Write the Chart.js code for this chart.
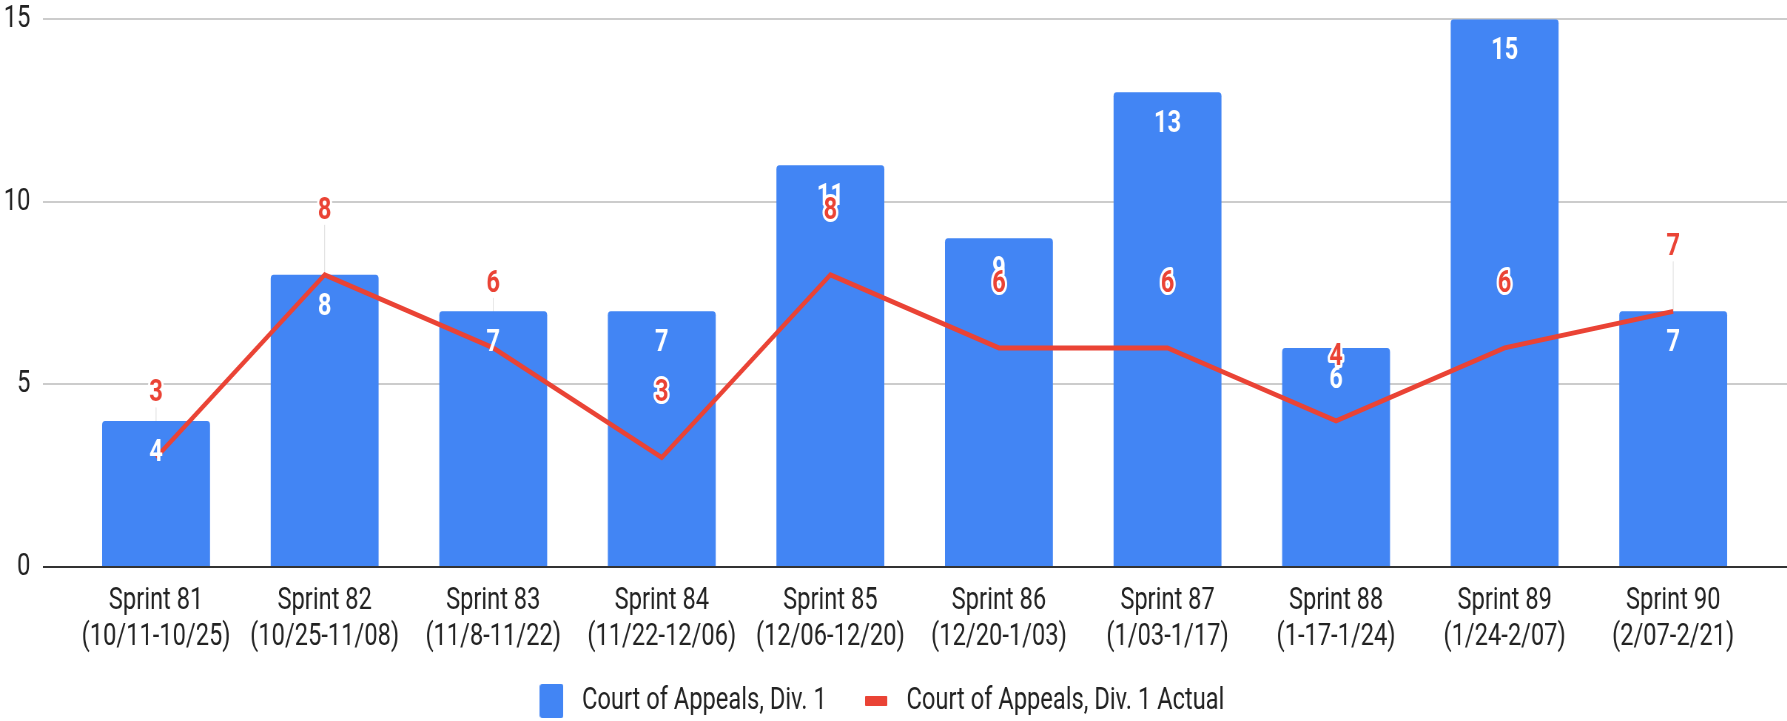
<!DOCTYPE html>
<html>
<head>
<meta charset="utf-8">
<script src="https://cdn.jsdelivr.net/npm/chart.js@4/dist/chart.umd.min.js"></script>
<style>
  html, body { margin: 0; padding: 0; background: #fff; overflow: hidden; }
  #wrap { width: 1787px; height: 721px; overflow: hidden; }
  /* the reference is a horizontally squeezed render, so draw wide and squeeze */
  #chart { transform: scaleX(0.74); transform-origin: 0 0; display: block; }
</style>
</head>
<body>
<div id="wrap"><canvas id="chart" width="2415" height="721"></canvas></div>
<script>
const categories = [
  ["Sprint 81", "(10/11-10/25)"],
  ["Sprint 82", "(10/25-11/08)"],
  ["Sprint 83", "(11/8-11/22)"],
  ["Sprint 84", "(11/22-12/06)"],
  ["Sprint 85", "(12/06-12/20)"],
  ["Sprint 86", "(12/20-1/03)"],
  ["Sprint 87", "(1/03-1/17)"],
  ["Sprint 88", "(1-17-1/24)"],
  ["Sprint 89", "(1/24-2/07)"],
  ["Sprint 90", "(2/07-2/21)"],
];
const plannedValues = [4, 8, 7, 7, 11, 9, 13, 6, 15, 7];
const actualValues = [3, 8, 6, 3, 8, 6, 6, 4, 6, 7];
const yTicks = [0, 5, 10, 15];
const seriesNames = ["Court of Appeals, Div. 1", "Court of Appeals, Div. 1 Actual"];

const BLUE = "#4285f4";
const RED = "#ea4335";
const FONT = "Roboto, 'Noto Sans', sans-serif";
const GRID_LEFT = 58;

// small canvases used as legend markers
function marker(w, h, color, r) {
  const c = document.createElement("canvas");
  c.width = w;
  c.height = h;
  const g = c.getContext("2d");
  g.fillStyle = color;
  g.beginPath();
  g.roundRect(0, 0, w, h, r);
  g.fill();
  return c;
}
const barMarker = marker(32, 34, BLUE, 3);
const lineMarker = marker(30, 10, RED, 1);

const gridPlugin = {
  id: "fullGrid",
  beforeDatasetsDraw(chart) {
    const { ctx } = chart;
    const y = chart.scales.y;
    ctx.save();
    ctx.strokeStyle = "#cccccc";
    ctx.lineWidth = 2;
    for (const v of yTicks) {
      if (v === 0) continue;
      const py = Math.round(y.getPixelForValue(v));
      ctx.beginPath();
      ctx.moveTo(GRID_LEFT, py);
      ctx.lineTo(chart.width, py);
      ctx.stroke();
    }
    // leader lines from line labels down to the points
    ctx.strokeStyle = "#dddddd";
    ctx.lineWidth = 1;
    chart.getDatasetMeta(1).data.forEach((pt) => {
      ctx.beginPath();
      ctx.moveTo(pt.x, pt.y - 50);
      ctx.lineTo(pt.x, pt.y);
      ctx.stroke();
    });
    ctx.restore();
  },
  afterDatasetsDraw(chart) {
    const { ctx } = chart;
    const y = chart.scales.y;
    ctx.save();
    const py = Math.round(y.getPixelForValue(0));
    ctx.strokeStyle = "#333333";
    ctx.lineWidth = 2;
    ctx.beginPath();
    ctx.moveTo(GRID_LEFT, py);
    ctx.lineTo(chart.width, py);
    ctx.stroke();

    ctx.font = "bold 32px " + FONT;
    ctx.textAlign = "center";
    ctx.textBaseline = "middle";
    ctx.fillStyle = "#ffffff";
    chart.getDatasetMeta(0).data.forEach((bar, i) => {
      ctx.fillText(String(plannedValues[i]), bar.x, bar.y + 32);
    });
    ctx.lineJoin = "round";
    ctx.lineWidth = 6;
    ctx.strokeStyle = "#ffffff";
    ctx.fillStyle = RED;
    chart.getDatasetMeta(1).data.forEach((pt, i) => {
      const t = String(actualValues[i]);
      ctx.strokeText(t, pt.x, pt.y - 64);
      ctx.fillText(t, pt.x, pt.y - 64);
    });
    ctx.restore();
  },
};

new Chart(document.getElementById("chart"), {
  type: "bar",
  data: {
    labels: categories,
    datasets: [
      {
        label: seriesNames[0],
        data: plannedValues,
        backgroundColor: BLUE,
        borderRadius: 4,
        borderSkipped: "bottom",
        barPercentage: 0.64,
        categoryPercentage: 1,
        order: 2,
      },
      {
        type: "line",
        label: seriesNames[1],
        data: actualValues,
        borderColor: RED,
        borderWidth: 5,
        pointRadius: 0,
        tension: 0,
        fill: false,
        order: 1,
      },
    ],
  },
  options: {
    responsive: false,
    animation: false,
    devicePixelRatio: 1,
    layout: { padding: { top: 17, right: 40, left: 0, bottom: -6 } },
    plugins: {
      tooltip: { enabled: false },
      legend: {
        position: "bottom",
        labels: {
          usePointStyle: true,
          pointStyleWidth: 50,
          boxHeight: 32,
          padding: 10,
          color: "#222",
          font: { family: FONT, size: 32 },
          generateLabels: () => [
            { text: seriesNames[0] + "    ", pointStyle: barMarker, fillStyle: BLUE, strokeStyle: BLUE, lineWidth: 0, datasetIndex: 0, fontColor: "#222" },
            { text: seriesNames[1], pointStyle: lineMarker, fillStyle: RED, strokeStyle: RED, lineWidth: 0, datasetIndex: 1, fontColor: "#222" },
          ],
        },
      },
    },
    scales: {
      x: {
        offset: true,
        grid: { display: false, drawTicks: false },
        border: { display: false },
        ticks: {
          color: "#222",
          padding: 16,
          maxRotation: 0,
          autoSkip: false,
          font: { family: FONT, size: 32, lineHeight: 1.125 },
        },
        afterFit: (scale) => { scale.height = 108; },
      },
      y: {
        min: 0,
        max: 15,
        grid: { display: true, drawOnChartArea: false, drawTicks: true, tickLength: 56, color: "rgba(0,0,0,0)" },
        border: { display: false },
        afterBuildTicks: (scale) => { scale.ticks = yTicks.map((v) => ({ value: v })); },
        ticks: {
          color: "#222",
          padding: 0,
          font: { family: FONT, size: 32 },
        },
        afterFit: (scale) => { scale.width = 97; },
      },
    },
  },
  plugins: [gridPlugin],
});
</script>
</body>
</html>
